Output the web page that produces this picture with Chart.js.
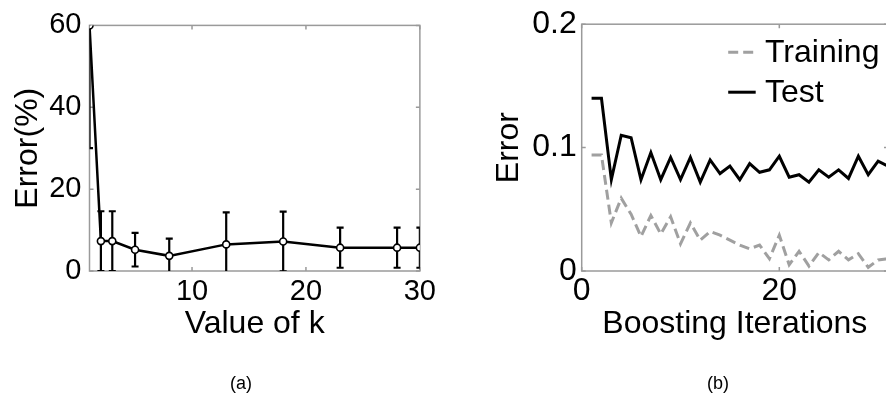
<!DOCTYPE html>
<html><head><meta charset="utf-8">
<script src="https://cdn.jsdelivr.net/npm/chart.js@4"></script>
<style>
html,body{margin:0;padding:0;background:#fff;}
#wrap{position:relative;width:886px;height:398px;overflow:hidden;background:#fff;}
canvas{position:absolute;top:0;}
#c1{left:0;}
#c2{left:470px;}
.cap{position:absolute;top:373px;font:18px 'Liberation Sans',Arial,sans-serif;line-height:20px;color:#000;transform:translateX(-50%);white-space:nowrap;}
</style></head>
<body>
<div id="wrap">
<canvas id="c1" width="440" height="398"></canvas>
<canvas id="c2" width="430" height="398"></canvas>
<div class="cap" style="left:241px">(a)</div>
<div class="cap" style="left:718px">(b)</div>
</div>
<script>
// ---- Data: panel (a) ----
const kVals   = [1, 2, 3, 5, 8, 13, 18, 23, 28, 30];
const errMean = [60, 7.3, 7.3, 5.2, 3.7, 6.5, 7.2, 5.7, 5.7, 5.7];
const errDev  = [30, 7.3, 7.3, 4.1, 4.2, 7.8, 7.3, 4.9, 4.9, 4.9];
const xTicksA = [10, 20, 30];
const yTicksA = [0, 20, 40, 60];

// ---- Data: panel (b) ----
const iters = [1,2,3,4,5,6,7,8,9,10,11,12,13,14,15,16,17,18,19,20,21,22,23,24,25,26,27,28,29,30,31];
const trainErr = [0.094,0.094,0.039,0.059,0.046,0.028,0.045,0.030,0.044,0.022,0.039,0.025,0.032,0.029,0.025,0.021,0.018,0.021,0.010,0.029,0.005,0.016,0.004,0.015,0.009,0.016,0.009,0.014,0.003,0.009,0.010];
const testErr  = [0.140,0.140,0.074,0.110,0.108,0.074,0.096,0.074,0.092,0.074,0.092,0.072,0.090,0.079,0.085,0.074,0.087,0.080,0.082,0.093,0.076,0.078,0.072,0.082,0.076,0.082,0.075,0.093,0.078,0.089,0.085];
const xTicksB = [0, 20];
const yTicksB = [0, 0.1, 0.2];
const seriesNames = ['Training', 'Test'];

const FONT = "'Liberation Sans', Arial, sans-serif";
Chart.defaults.font.family = FONT;
Chart.defaults.color = '#000';

const frame = {
  id: 'frame',
  beforeDatasetsDraw(chart) {
    const {ctx, chartArea: a, scales: {x, y}} = chart;
    ctx.save();
    ctx.strokeStyle = '#9a9a9a';
    ctx.lineWidth = 1.5;
    ctx.strokeRect(a.left, a.top, a.right - a.left, a.bottom - a.top);
    const L = 4;
    ctx.beginPath();
    x.ticks.forEach(t => {
      const px = x.getPixelForValue(t.value);
      ctx.moveTo(px, a.bottom); ctx.lineTo(px, a.bottom - L);
      ctx.moveTo(px, a.top); ctx.lineTo(px, a.top + L);
    });
    y.ticks.forEach(t => {
      const py = y.getPixelForValue(t.value);
      ctx.moveTo(a.left, py); ctx.lineTo(a.left + L, py);
      ctx.moveTo(a.right, py); ctx.lineTo(a.right - L, py);
    });
    ctx.stroke();
    ctx.restore();
  }
};

const errorBars = {
  id: 'errorBars',
  beforeDatasetsDraw(chart) {
    const {ctx, chartArea: a, scales: {x, y}} = chart;
    ctx.save();
    ctx.beginPath();
    ctx.rect(a.left, a.top, a.right - a.left, a.bottom - a.top);
    ctx.clip();
    ctx.strokeStyle = '#000';
    ctx.lineWidth = 2.2;
    const cw = 3.5;
    ctx.beginPath();
    kVals.forEach((k, i) => {
      const px = x.getPixelForValue(k);
      const pt = y.getPixelForValue(errMean[i] + errDev[i]);
      const pb = y.getPixelForValue(errMean[i] - errDev[i]);
      ctx.moveTo(px, pt); ctx.lineTo(px, pb);
      ctx.moveTo(px - cw, pt); ctx.lineTo(px + cw, pt);
      ctx.moveTo(px - cw, pb); ctx.lineTo(px + cw, pb);
    });
    ctx.stroke();
    ctx.restore();
  }
};

const boxLegend = {
  id: 'boxLegend',
  afterDatasetsDraw(chart) {
    const {ctx, chartArea: a} = chart;
    ctx.save();
    ctx.font = '32px ' + FONT;
    ctx.textBaseline = 'alphabetic';
    ctx.fillStyle = '#000';
    chart.data.datasets.forEach((ds, i) => {
      const yy = a.top + 28 + i * 40;
      ctx.strokeStyle = ds.borderColor;
      ctx.lineWidth = ds.borderWidth;
      ctx.setLineDash(ds.borderDash || []);
      ctx.beginPath();
      ctx.moveTo(a.left + 146.5, yy);
      ctx.lineTo(a.left + 174, yy);
      ctx.stroke();
      ctx.setLineDash([]);
      ctx.fillText(ds.label, a.left + 183.3, yy + 10);
    });
    ctx.restore();
  }
};

function setTicks(list) {
  return s => { s.ticks = list.map(v => ({value: v})); };
}

new Chart(document.getElementById('c1'), {
  type: 'line',
  data: {
    datasets: [{
      label: 'Error',
      data: kVals.map((k, i) => ({x: k, y: errMean[i]})),
      borderColor: '#000',
      borderWidth: 2.5,
      pointRadius: 3.5,
      pointBorderWidth: 1.6,
      pointBackgroundColor: '#fff',
      pointBorderColor: '#000',
      tension: 0,
      clip: 0
    }]
  },
  options: {
    responsive: false,
    animation: false,
    devicePixelRatio: 1,
    layout: {padding: {top: 24, right: 17, left: 0, bottom: 0}},
    plugins: {legend: {display: false}, tooltip: {enabled: false}},
    scales: {
      x: {
        type: 'linear', min: 1, max: 30,
        afterBuildTicks: setTicks(xTicksA),
        afterFit: s => { s.height = 127; },
        grid: {display: false, drawTicks: false},
        border: {display: false},
        ticks: {font: {size: 29}, padding: 4, maxRotation: 0, color: '#000'},
        title: {display: true, text: 'Value of k', font: {size: 32}, color: '#000', padding: {top: 0, bottom: 54.8}}
      },
      y: {
        type: 'linear', min: 0, max: 60,
        afterBuildTicks: setTicks(yTicksA),
        afterFit: s => { s.width = 89.5; },
        grid: {display: false, drawTicks: false},
        border: {display: false},
        ticks: {font: {size: 29}, padding: 8, color: '#000'},
        title: {display: true, text: 'Error(%)', font: {size: 32}, color: '#000', padding: {top: 9, bottom: 0}}
      }
    }
  },
  plugins: [frame, errorBars]
});

new Chart(document.getElementById('c2'), {
  type: 'line',
  data: {
    datasets: [{
      label: seriesNames[0],
      data: iters.map((t, i) => ({x: t, y: trainErr[i]})),
      borderColor: '#a0a0a0',
      borderWidth: 3,
      borderDash: [10, 5],
      pointRadius: 0,
      tension: 0,
      clip: 0
    }, {
      label: seriesNames[1],
      data: iters.map((t, i) => ({x: t, y: testErr[i]})),
      borderColor: '#000',
      borderWidth: 3,
      pointRadius: 0,
      tension: 0,
      clip: 0
    }]
  },
  options: {
    responsive: false,
    animation: false,
    devicePixelRatio: 1,
    layout: {padding: {top: 24, right: 12, left: 0, bottom: 0}},
    plugins: {legend: {display: false}, tooltip: {enabled: false}},
    scales: {
      x: {
        type: 'linear', min: 0, max: 31,
        afterBuildTicks: setTicks(xTicksB),
        afterFit: s => { s.height = 127; },
        grid: {display: false, drawTicks: false},
        border: {display: false},
        ticks: {font: {size: 32}, padding: 1, maxRotation: 0, color: '#000'},
        title: {display: true, text: 'Boosting Iterations', font: {size: 32}, color: '#000', padding: {top: 0, bottom: 54.8}}
      },
      y: {
        type: 'linear', min: 0, max: 0.2,
        afterBuildTicks: setTicks(yTicksB),
        afterFit: s => { s.width = 111.7; },
        grid: {display: false, drawTicks: false},
        border: {display: false},
        ticks: {font: {size: 32}, padding: 5, color: '#000'},
        title: {display: true, text: 'Error', font: {size: 32}, color: '#000', padding: {top: 20.3, bottom: 0}}
      }
    }
  },
  plugins: [frame, boxLegend]
});
</script>
</body></html>
